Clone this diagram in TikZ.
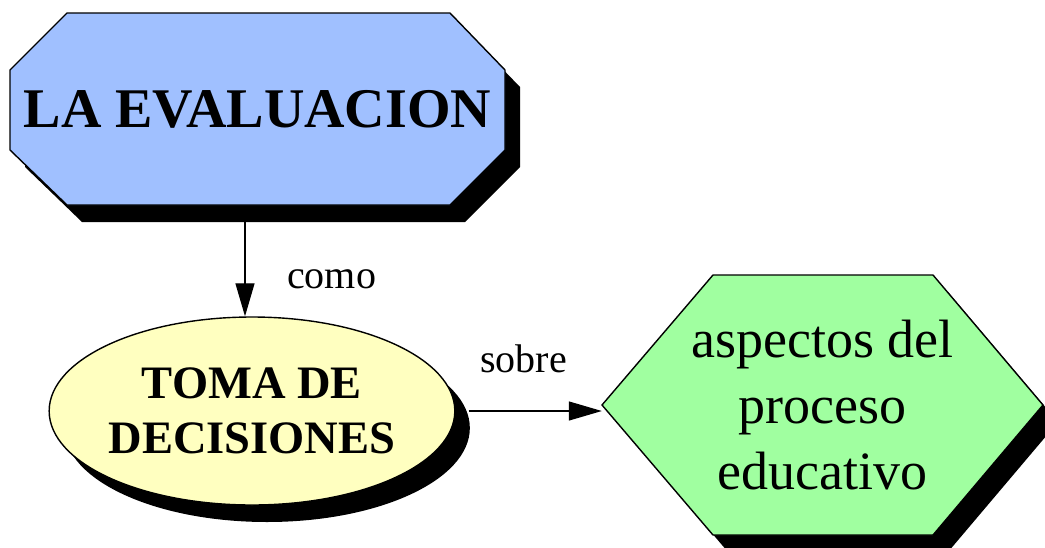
\documentclass[tikz,border=0pt]{standalone}
\usepackage{fontspec}
\setmainfont{Liberation Serif}
\usetikzlibrary{arrows.meta,shapes.geometric}
\definecolor{evalblue}{RGB}{160,192,255}
\definecolor{decyellow}{RGB}{255,255,192}
\definecolor{aspgreen}{RGB}{160,255,160}
\tikzset{
  shadowed/.style={preaction={fill=black,transform canvas={xshift=15pt,yshift=-17pt}}},
  shapeline/.style={draw=black,line width=1.4pt,line join=miter},
  arr/.style={line width=1.3pt,-{Triangle[length=33pt,width=19pt]}},
  lbl/.style={font=\fontsize{40}{44}\selectfont,inner sep=0pt,anchor=base west},
}
\begin{document}
\begin{tikzpicture}[x=1pt,y=-1pt]
\useasboundingbox (0,0) rectangle (1045,547);
% octagon
\draw[shapeline,fill=evalblue,shadowed] (67,13) -- (450,13) -- (505,70) -- (505,150) -- (450,205) -- (67,205) -- (10,150) -- (10,70) -- cycle;
\node[minimum width=495pt,minimum height=192pt,inner sep=0pt,font=\bfseries\fontsize{56}{62}\selectfont] (eval) at (257.5,109) {LA EVALUACION};
% hexagon
\draw[shapeline,fill=aspgreen,shadowed] (602,405) -- (713,275) -- (933,275) -- (1043,405) -- (933,535) -- (713,535) -- cycle;
\node[minimum width=441pt,minimum height=260pt,inner sep=0pt,align=center,font=\fontsize{54}{66}\selectfont] (asp) at (822.5,405) {aspectos del\\proceso\\educativo};
% ellipse
\node[ellipse,shapeline,fill=decyellow,shadowed,minimum width=398pt,minimum height=188pt,inner sep=0pt,align=center,font=\bfseries\fontsize{46.5}{55}\selectfont] (dec) at (252,411) {TOMA DE\ \\DECISIONES};
% connectors
\draw[arr] ([xshift=-12.5pt,yshift=-17pt]eval.south) -- ([xshift=-7pt]dec.north);
\draw[arr] ([xshift=13pt]dec.east) -- (dec.east -| asp.west);
\node[lbl] (lcomo) at (287,288) {como};
\node[lbl] (lsobre) at (480,372) {sobre};
\end{tikzpicture}
\end{document}
